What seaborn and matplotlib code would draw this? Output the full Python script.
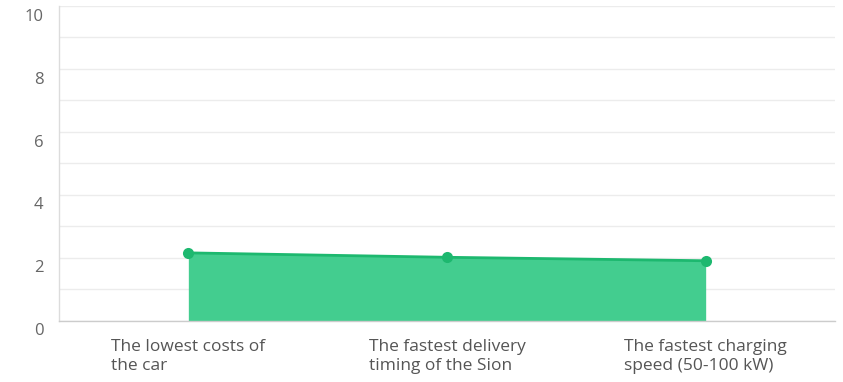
import matplotlib
matplotlib.use("Agg")
import matplotlib.pyplot as plt
import matplotlib.transforms as mtransforms
import seaborn as sns
import pandas as pd

categories = [
    "The lowest costs of\nthe car",
    "The fastest delivery\ntiming of the Sion",
    "The fastest charging\nspeed (50-100 kW)",
]
scores = [2.15, 2.01, 1.90]
y_ticks = [0, 2, 4, 6, 8, 10]

line_color = "#1db86f"
fill_color = "#43cd8f"

df = pd.DataFrame({"pos": range(len(categories)), "score": scores})

sns.set_theme(style="white")
plt.rcParams["font.family"] = ["Open Sans", "DejaVu Sans"]

W, H = 843, 382
fig = plt.figure(figsize=(W / 100, H / 100), dpi=100)
ax = fig.add_axes([59 / W, 1 - 320.5 / H, (835 - 59) / W, (320.5 - 6) / H])

ax.fill_between(df["pos"], 0, df["score"], color=fill_color, linewidth=0, zorder=2)
sns.lineplot(data=df, x="pos", y="score", ax=ax, color=line_color, linewidth=2,
             marker="o", markersize=8, markeredgewidth=0, zorder=3)

ax.set_xlim(-0.5, len(categories) - 0.5)
ax.set_ylim(0, 10)
ax.set_yticks(y_ticks)
ax.set_yticks(range(0, 11), minor=True)
ax.yaxis.grid(True, which="both", color="#ececec", linewidth=1, zorder=0)
ax.set_axisbelow(True)

ax.set_xticks(range(len(categories)))
ax.set_xticklabels(categories, multialignment="left", fontsize=12.5,
                   color="#555555", linespacing=1.25)
ax.tick_params(axis="x", length=0, pad=13)
ax.tick_params(axis="y", which="both", length=0, pad=11, labelsize=12, labelcolor="#666666")
ax.set_xlabel("")
ax.set_ylabel("")

# y labels sit just beneath their gridlines
shift = mtransforms.ScaledTranslation(0, -2 / 72, fig.dpi_scale_trans)
for lab in ax.get_yticklabels():
    lab.set_verticalalignment("top")
    lab.set_transform(lab.get_transform() + shift)

for side in ["top", "right"]:
    ax.spines[side].set_visible(False)
ax.spines["left"].set_color("#dcdcdc")
ax.spines["bottom"].set_color("#cccccc")
ax.spines["left"].set_linewidth(1)
ax.spines["bottom"].set_linewidth(1)

fig.savefig("out.png", dpi=100)
